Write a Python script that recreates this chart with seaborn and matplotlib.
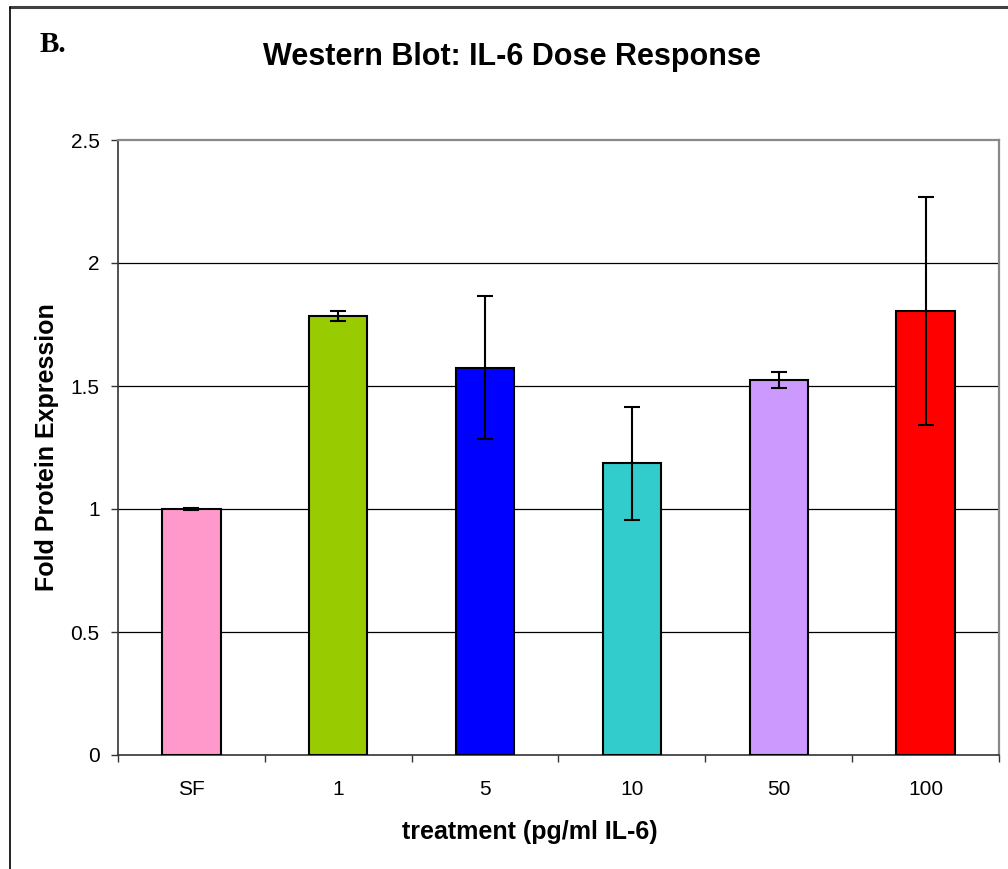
import numpy as np
import pandas as pd
import matplotlib
matplotlib.use("Agg")
import matplotlib.pyplot as plt
import seaborn as sns
from matplotlib.lines import Line2D

# ---- data ----
categories = ["SF", "1", "5", "10", "50", "100"]
values = [1.00, 1.785, 1.575, 1.185, 1.525, 1.805]
errors = [0.003, 0.02, 0.29, 0.23, 0.033, 0.465]
colors = ["#FF99CC", "#99CC00", "#0000FF", "#33CCCC", "#CC99FF", "#FF0000"]
yticks = [0, 0.5, 1, 1.5, 2, 2.5]
ytick_labels = ["0", "0.5", "1", "1.5", "2", "2.5"]
title = "Western Blot: IL-6 Dose Response"
xlabel = "treatment (pg/ml IL-6)"
ylabel = "Fold Protein Expression"
panel = "B."

sns.set_style("white")
plt.rcParams["font.family"] = ["Liberation Sans", "DejaVu Sans"]
plt.rcParams["text.color"] = "black"
plt.rcParams["xtick.color"] = "black"
plt.rcParams["ytick.color"] = "black"
plt.rcParams["axes.labelcolor"] = "black"

W, H = 1008, 869
fig = plt.figure(figsize=(W / 100, H / 100), dpi=100)
fig.patch.set_facecolor("white")

ax_l, ax_r, ax_t, ax_b = 117.7, 999.3, 140, 755
ax = fig.add_axes([ax_l / W, 1 - ax_b / H, (ax_r - ax_l) / W, (ax_b - ax_t) / H])

df = pd.DataFrame({"treatment": categories, "value": values})
sns.barplot(data=df, x="treatment", y="value", hue="treatment",
            palette=colors, order=categories, hue_order=categories,
            width=0.4, edgecolor="black", linewidth=1.5, legend=False,
            saturation=1, errorbar=None, ax=ax, zorder=3)
ax.errorbar(np.arange(len(categories)), values, yerr=errors, fmt="none",
            ecolor="black", elinewidth=1.5, capsize=6, capthick=1.5, zorder=4)

ax.set_xlim(-0.5, len(categories) - 0.5)
ax.set_ylim(0, 2.5)
ax.set_yticks(yticks)
ax.set_yticklabels(ytick_labels)
for y in yticks[1:-1]:
    ax.axhline(y, color="black", linewidth=0.9, zorder=1)

ax.set_xticks(np.arange(len(categories)))
ax.set_xticklabels(categories)
ax.set_xticks(np.arange(-0.5, len(categories), 1.0), minor=True)
ax.tick_params(axis="x", which="major", length=0, pad=18, labelsize=15)
ax.tick_params(axis="x", which="minor", length=5, width=1, color="#333333", direction="out", bottom=True)
ax.tick_params(axis="y", which="major", length=5, width=1, color="#333333", direction="out", left=True, pad=8, labelsize=15)

for s in ["top", "right"]:
    ax.spines[s].set_color("#888888")
    ax.spines[s].set_linewidth(1.6)
for s in ["left", "bottom"]:
    ax.spines[s].set_color("#333333")
    ax.spines[s].set_linewidth(1.2)

ax.set_xlabel(xlabel, fontsize=18, fontweight="bold", va="center")
ax.xaxis.set_label_coords((530 - ax_l) / (ax_r - ax_l), (ax_b - 832) / (ax_b - ax_t))
ax.set_ylabel(ylabel, fontsize=18, fontweight="bold", va="center")
ax.yaxis.set_label_coords((47 - ax_l) / (ax_r - ax_l), 0.5)

fig.text(512 / W, 1 - 57 / H, title, ha="center", va="center", fontsize=22, fontweight="bold")
fig.text(40 / W, 1 - 52 / H, panel, ha="left", va="baseline", fontsize=21,
         fontweight="bold", family=["Liberation Serif", "DejaVu Serif"])

# figure frame (top and left)
fig.add_artist(Line2D([9.5 / W, 1.0], [1 - 7 / H, 1 - 7 / H], transform=fig.transFigure,
                      color="#404040", linewidth=2.2))
fig.add_artist(Line2D([9.5 / W, 9.5 / W], [0.0, 1 - 7 / H], transform=fig.transFigure,
                      color="black", linewidth=1.2))

fig.savefig("out.png", dpi=100, facecolor="white")
